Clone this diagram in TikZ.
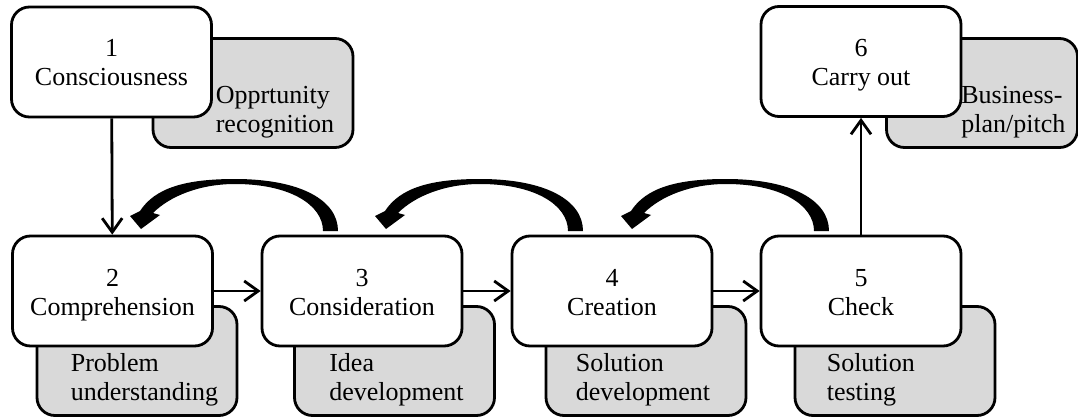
\documentclass[tikz,border=0pt]{standalone}
\usepackage{fontspec}
\setmainfont{Liberation Serif}
\usetikzlibrary{arrows.meta,calc}
\definecolor{notegray}{HTML}{D9D9D9}
\begin{document}
\begin{tikzpicture}[x=1pt,y=-1pt,
  txt/.style={font=\fontsize{26}{29}\selectfont},
  stage/.style={txt, draw=black, line width=2.8pt, fill=white, rounded corners=18pt,
    minimum width=200pt, minimum height=110pt, align=center, inner sep=0pt,
    text height=48pt, text depth=0pt},
  note/.style={draw=black, line width=2.8pt, fill=notegray, rounded corners=18pt,
    minimum width=200pt, minimum height=109pt, inner sep=0pt},
  notetext/.style={txt, anchor=base west, align=left, inner sep=0pt},
  flow/.style={line width=2.8pt, -{Straight Barb[length=14pt,width=20pt,line width=2.8pt]}},
  backarrow/.pic={
    \fill[black] (338,231) .. controls (338,200) and (300,179) .. (235,179)
      .. controls (185,179) and (155,188) .. (140,211)
      -- (130,216) -- (141,229) -- (160,215) -- (153,213)
      .. controls (170,196) and (200,184) .. (235,184)
      .. controls (290,184) and (323,205) .. (323,231) -- cycle;
  }]
\useasboundingbox (0,0) rectangle (1078,417);

% grey annotation boxes (behind the stages)
\node[note] (g1) at (253,93) {};
\node[note, minimum width=191pt] (g6) at (982,93) {};
\node[note] (g2) at (137,361) {};
\node[note] (g3) at (394.5,361) {};
\node[note] (g4) at (646,361) {};
\node[note] (g5) at (895,361) {};

% annotation texts (anchored at the baseline of their last line)
\node[notetext] at ($(g1.north west)+(64,95)$) {Opprtunity\\recognition};
\node[notetext] at ($(g6.north west)+(76,95)$) {Business-\\plan/pitch};
\node[notetext] at ($(g2.north west)+(35,95)$) {Problem\\understanding};
\node[notetext] at ($(g3.north west)+(36,95)$) {Idea\\development};
\node[notetext] at ($(g4.north west)+(31,95)$) {Solution\\development};
\node[notetext] at ($(g5.north west)+(33,95)$) {Solution\\testing};

% process stages
\node[stage] (b1) at (111.5,62) {1\\Consciousness};
\node[stage] (b2) at (112.5,291) {2\\Comprehension};
\node[stage] (b3) at (362,291) {3\\Consideration};
\node[stage] (b4) at (612,291) {4\\Creation};
\node[stage] (b5) at (861,291) {5\\Check};
\node[stage] (b6) at (861,61.5) {6\\Carry out};

% forward flow
\draw[flow] (b1) -- (b2);
\draw[flow] (b2) -- (b3);
\draw[flow] (b3) -- (b4);
\draw[flow] (b4) -- (b5);
\draw[flow] (b5) -- (b6);

% feedback loops
\pic at (0,0) {backarrow};
\pic at (245,0) {backarrow};
\pic at (491,0) {backarrow};
\end{tikzpicture}
\end{document}
